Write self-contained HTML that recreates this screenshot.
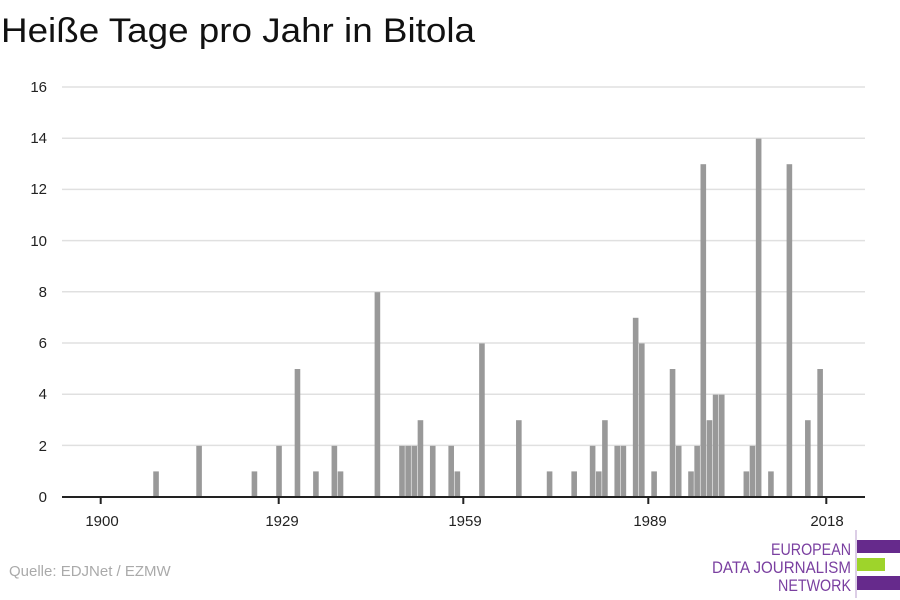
<!DOCTYPE html>
<html><head><meta charset="utf-8"><style>
body{margin:0;background:#fff;}
svg{display:block;font-family:"Liberation Sans",sans-serif;}
</style></head><body>
<svg width="900" height="600" xmlns="http://www.w3.org/2000/svg">
<text x="1" y="42" font-size="34" fill="#111" textLength="474" lengthAdjust="spacingAndGlyphs">Heiße Tage pro Jahr in Bitola</text>
<g stroke="#e0e0e0" stroke-width="1.5">
<line x1="62" x2="865" y1="87" y2="87"/><line x1="62" x2="865" y1="138.2" y2="138.2"/>
<line x1="62" x2="865" y1="189.4" y2="189.4"/><line x1="62" x2="865" y1="240.6" y2="240.6"/>
<line x1="62" x2="865" y1="291.8" y2="291.8"/><line x1="62" x2="865" y1="343" y2="343"/>
<line x1="62" x2="865" y1="394.2" y2="394.2"/><line x1="62" x2="865" y1="445.4" y2="445.4"/>
</g>
<g font-size="15" fill="#222" text-anchor="end">
<text x="47" y="92">16</text><text x="47" y="143">14</text><text x="47" y="194">12</text>
<text x="47" y="246">10</text><text x="47" y="297">8</text><text x="47" y="348">6</text>
<text x="47" y="399">4</text><text x="47" y="451">2</text><text x="47" y="502">0</text>
</g>
<g fill="#999">
<rect x="153.24" y="471.4" width="5.6" height="25.6"/>
<rect x="196.28" y="445.8" width="5.6" height="51.2"/>
<rect x="251.63" y="471.4" width="5.6" height="25.6"/>
<rect x="276.22" y="445.8" width="5.6" height="51.2"/>
<rect x="294.67" y="369" width="5.6" height="128"/>
<rect x="313.12" y="471.4" width="5.6" height="25.6"/>
<rect x="331.56" y="445.8" width="5.6" height="51.2"/>
<rect x="337.71" y="471.4" width="5.6" height="25.6"/>
<rect x="374.61" y="292.2" width="5.6" height="204.8"/>
<rect x="399.2" y="445.8" width="5.6" height="51.2"/>
<rect x="405.35" y="445.8" width="5.6" height="51.2"/>
<rect x="411.5" y="445.8" width="5.6" height="51.2"/>
<rect x="417.65" y="420.2" width="5.6" height="76.8"/>
<rect x="429.95" y="445.8" width="5.6" height="51.2"/>
<rect x="448.39" y="445.8" width="5.6" height="51.2"/>
<rect x="454.54" y="471.4" width="5.6" height="25.6"/>
<rect x="479.14" y="343.4" width="5.6" height="153.6"/>
<rect x="516.03" y="420.2" width="5.6" height="76.8"/>
<rect x="546.78" y="471.4" width="5.6" height="25.6"/>
<rect x="571.37" y="471.4" width="5.6" height="25.6"/>
<rect x="589.82" y="445.8" width="5.6" height="51.2"/>
<rect x="595.97" y="471.4" width="5.6" height="25.6"/>
<rect x="602.12" y="420.2" width="5.6" height="76.8"/>
<rect x="614.42" y="445.8" width="5.6" height="51.2"/>
<rect x="620.56" y="445.8" width="5.6" height="51.2"/>
<rect x="632.86" y="317.8" width="5.6" height="179.2"/>
<rect x="639.01" y="343.4" width="5.6" height="153.6"/>
<rect x="651.31" y="471.4" width="5.6" height="25.6"/>
<rect x="669.76" y="369" width="5.6" height="128"/>
<rect x="675.91" y="445.8" width="5.6" height="51.2"/>
<rect x="688.2" y="471.4" width="5.6" height="25.6"/>
<rect x="694.35" y="445.8" width="5.6" height="51.2"/>
<rect x="700.5" y="164.2" width="5.6" height="332.8"/>
<rect x="706.65" y="420.2" width="5.6" height="76.8"/>
<rect x="712.8" y="394.6" width="5.6" height="102.4"/>
<rect x="718.95" y="394.6" width="5.6" height="102.4"/>
<rect x="743.55" y="471.4" width="5.6" height="25.6"/>
<rect x="749.7" y="445.8" width="5.6" height="51.2"/>
<rect x="755.84" y="138.6" width="5.6" height="358.4"/>
<rect x="768.14" y="471.4" width="5.6" height="25.6"/>
<rect x="786.59" y="164.2" width="5.6" height="332.8"/>
<rect x="805.04" y="420.2" width="5.6" height="76.8"/>
<rect x="817.33" y="369" width="5.6" height="128"/>
</g>
<line x1="62" x2="865" y1="497" y2="497" stroke="#222" stroke-width="2"/>
<g stroke="#222" stroke-width="2">
<line x1="100.7" x2="100.7" y1="497" y2="504"/><line x1="278.7" x2="278.7" y1="497" y2="504"/>
<line x1="463.3" x2="463.3" y1="497" y2="504"/><line x1="648.3" x2="648.3" y1="497" y2="504"/>
<line x1="826.3" x2="826.3" y1="497" y2="504"/>
</g>
<g font-size="15" fill="#222" text-anchor="middle">
<text x="102" y="526">1900</text><text x="282" y="526">1929</text><text x="465" y="526">1959</text>
<text x="650" y="526">1989</text><text x="827" y="526">2018</text>
</g>
<text x="9" y="576" font-size="15" fill="#aaa">Quelle: EDJNet / EZMW</text>
<line x1="856" x2="856" y1="530" y2="598" stroke="#b89ccd" stroke-width="1"/>
<rect x="857" y="540" width="43" height="13" fill="#662a8c"/>
<rect x="857" y="558" width="28" height="13" fill="#9ed42b"/>
<rect x="857" y="576" width="43" height="14" fill="#662a8c"/>
<g font-size="17" fill="#7a3fa0" text-anchor="end">
<text x="851" y="555" textLength="80" lengthAdjust="spacingAndGlyphs">EUROPEAN</text>
<text x="851" y="573" textLength="139" lengthAdjust="spacingAndGlyphs">DATA JOURNALISM</text>
<text x="851" y="591" textLength="73" lengthAdjust="spacingAndGlyphs">NETWORK</text>
</g>
</svg>
</body></html>
